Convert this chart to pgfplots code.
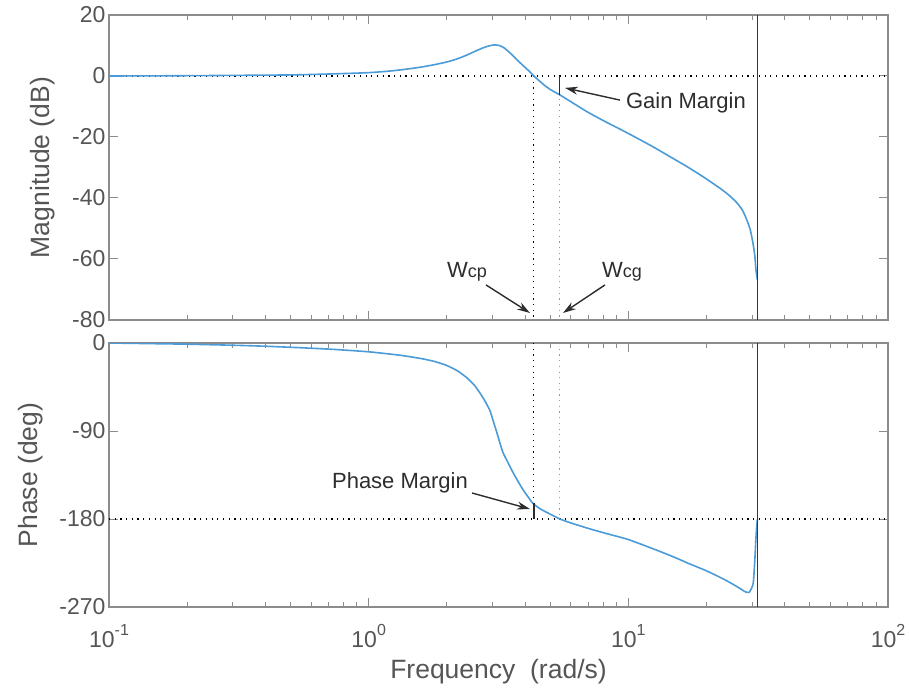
\documentclass[border=0pt]{standalone}
\usepackage{pgfplots}
\pgfplotsset{compat=1.18}
\usepackage{fontspec}
\setmainfont{Liberation Sans}
\usetikzlibrary{arrows.meta}
\definecolor{curve}{RGB}{74,155,216}
\definecolor{axgray}{RGB}{140,140,140}
\definecolor{txtgray}{RGB}{85,85,85}
\definecolor{nyq}{RGB}{55,55,55}
\definecolor{dotgray}{RGB}{150,150,150}
\definecolor{anno}{RGB}{45,45,45}

\pgfplotstableread{
w mag
0.1 0
0.15 0.05
0.2 0.1
0.3 0.2
0.4 0.28
0.5 0.35
0.6 0.5
0.7 0.65
0.8 0.8
1.0 1.1
1.2 1.6
1.4 2.25
1.6 2.95
1.8 3.75
2.0 4.6
2.2 5.65
2.4 6.95
2.6 8.3
2.8 9.45
2.95 10.0
3.06 10.2
3.15 10.1
3.3 9.4
3.5 7.6
3.7 5.6
3.9 3.7
4.1 2.0
4.33 0
4.7 -2.7
5.0 -4.4
5.45 -6.2
6.0 -8.4
6.93 -11.7
8.0 -14.6
9.28 -17.4
10.5 -19.8
12.44 -23.2
14.5 -26.5
16.82 -29.7
19.38 -33
22.53 -36.8
24.5 -39.2
26.2 -41.6
27.5 -44.0
28.6 -47.2
29.5 -50.5
30.2 -54.8
30.7 -59
31.0 -63.5
31.3 -66
31.416 -67
}\magtable

\pgfplotstableread{
w ph
0.1 0
0.15 -0.7
0.2 -1.2
0.3 -2.3
0.4 -3.3
0.544 -4.8
0.73 -6.5
1.0 -9
1.32 -12.5
1.6 -16
1.8 -19
2.0 -23
2.2 -28.5
2.4 -36
2.55 -43
2.68 -51
2.8 -59
2.93 -69
3.02 -80
3.12 -92
3.2 -102
3.29 -112
3.45 -123
3.59 -132
3.75 -141
3.93 -150
4.1 -157
4.29 -164
4.6 -170
5.0 -175
5.45 -180
6.0 -184
6.51 -187
7.3 -191
8.27 -195
10 -201
12.9 -212
15 -219
17.26 -226
20 -233
23.1 -241
25 -246
26.9 -251
28.0 -254
28.6 -255
29.2 -255
29.8 -251
30.3 -245
30.7 -222
31.0 -200
31.2 -188
31.416 -180
}\phtable

\tikzset{
 mydots/.style={dash pattern=on 1.2pt off 4.5pt, line width=1.1pt},
 myarr/.style={draw=anno, line width=1.4pt, -{Stealth[length=13pt,width=8pt]}},
 myanno/.style={font=\fontsize{22}{26}\selectfont, text=anno},
}
\newcommand{\tenexp}[1]{10\raisebox{1.0ex}{\fontsize{16}{19}\selectfont #1}}

\begin{document}
\begin{tikzpicture}
% Magnitude
\begin{axis}[xmode=log, xmin=0.1, xmax=100,
  scale only axis, width=779pt,
  axis line style={axgray, line width=1.1pt},
  tick style={draw=axgray, line width=1pt},
  major tick length=9pt, minor tick length=5pt,
  tick align=inside,
  xtick={0.1,1,10,100},
  minor xtick={0.2,0.3,0.4,0.5,0.6,0.7,0.8,0.9,2,3,4,5,6,7,8,9,20,30,40,50,60,70,80,90},
  ticklabel style={font=\fontsize{23}{27}\selectfont, text=txtgray},
  label style={font=\fontsize{26.5}{30}\selectfont, text=txtgray},
  ylabel style={yshift=10pt},
  at={(109pt,368pt)}, anchor=south west, height=305pt,
  ymin=-80, ymax=20, ytick={-80,-60,-40,-20,0,20},
  yticklabels={-80,-60,-40,-20,0,20}, xticklabels=\empty,
  ylabel={Magnitude (dB)}]
\addplot[black, mydots] coordinates {(0.1,0) (100,0)};
\addplot[black, mydots] coordinates {(4.33,0) (4.33,-80)};
\addplot[dotgray, mydots] coordinates {(5.45,0) (5.45,-80)};
\addplot[curve, line width=1.6pt, smooth, tension=0.4] table[x=w, y=mag] {\magtable};
\addplot[anno, line width=1.2pt] coordinates {(5.45,0) (5.45,-6.2)};
\addplot[nyq, line width=1.4pt] coordinates {(31.416,-80) (31.416,20)};
\node[myanno] at (axis cs:16.67,-8.85) {Gain Margin};
\draw[myarr] (axis cs:9.28,-7.9) -- (axis cs:5.70,-3.9);
\node[myanno] at (axis cs:2.39,-64.3) {W{\fontsize{18}{20}\selectfont cp}};
\draw[myarr] (axis cs:2.83,-68.5) -- (axis cs:4.18,-77.7);
\node[myanno] at (axis cs:9.45,-64.3) {W{\fontsize{18}{20}\selectfont cg}};
\draw[myarr] (axis cs:8.13,-68.5) -- (axis cs:5.60,-77.7);
\end{axis}
% Phase
\begin{axis}[xmode=log, xmin=0.1, xmax=100,
  scale only axis, width=779pt,
  axis line style={axgray, line width=1.1pt},
  tick style={draw=axgray, line width=1pt},
  major tick length=9pt, minor tick length=5pt,
  tick align=inside,
  xtick={0.1,1,10,100},
  minor xtick={0.2,0.3,0.4,0.5,0.6,0.7,0.8,0.9,2,3,4,5,6,7,8,9,20,30,40,50,60,70,80,90},
  ticklabel style={font=\fontsize{23}{27}\selectfont, text=txtgray},
  label style={font=\fontsize{26.5}{30}\selectfont, text=txtgray},
  ylabel style={yshift=10pt},
  at={(109pt,81pt)}, anchor=south west, height=264pt,
  ymin=-270, ymax=0, ytick={-270,-180,-90,0},
  yticklabels={-270,-180,-90,0},
  xticklabels={\tenexp{-1},\tenexp{0},\tenexp{1},\tenexp{2}},
  xticklabel style={yshift=-14pt},
  xlabel style={yshift=-4pt},
  xlabel={Frequency\ \ (rad/s)}, ylabel={Phase (deg)}]
\addplot[black, mydots] coordinates {(0.1,-180) (100,-180)};
\addplot[black, mydots] coordinates {(4.33,0) (4.33,-164)};
\addplot[dotgray, mydots] coordinates {(5.45,0) (5.45,-180)};
\addplot[curve, line width=1.6pt, smooth, tension=0.3] table[x=w, y=ph] {\phtable};
\addplot[anno, line width=1.2pt] coordinates {(4.33,-180) (4.33,-164)};
\addplot[nyq, line width=1.4pt] coordinates {(31.416,-270) (31.416,0)};
\node[myanno] at (axis cs:1.32,-143.2) {Phase Margin};
\draw[myarr] (axis cs:2.50,-153.4) -- (axis cs:4.18,-169.8);
\end{axis}
\pgfresetboundingbox
\path (0,0) rectangle (909pt,688pt);
\end{tikzpicture}
\end{document}
